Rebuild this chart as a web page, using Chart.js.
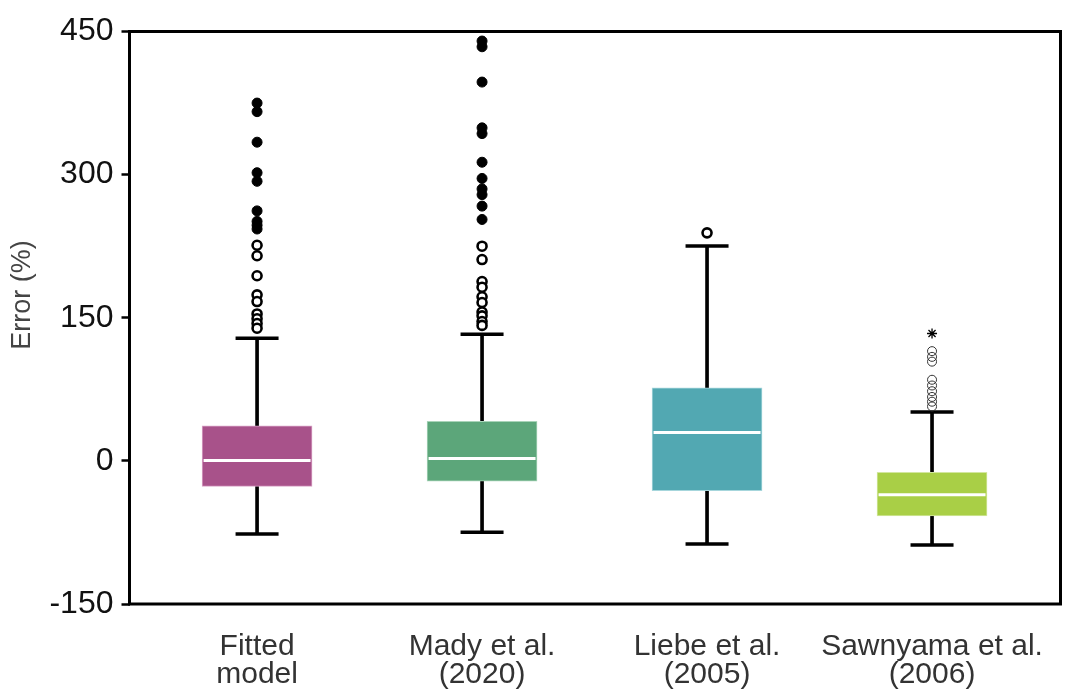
<!DOCTYPE html>
<html>
<head>
<meta charset="utf-8">
<script src="https://cdn.jsdelivr.net/npm/chart.js@4.4.1/dist/chart.umd.min.js"></script>
<style>
  body { margin: 0; background: #fff; }
  #box-chart { display: block; }
</style>
</head>
<body>
<canvas id="box-chart" width="1071" height="696"></canvas>
<script>
// categories (two-line labels)
const categories = [['Fitted', 'model'], ['Mady et al.', '(2020)'], ['Liebe et al.', '(2005)'], ['Sawnyama et al.', '(2006)']];
const boxColors = ['#a8528a', '#5ca67a', '#52a8b2', '#a9cf46'];
const boxEdges = ['#d9a3c6', '#a9d4b9', '#a6d6dc', '#d3e7a0'];

// box statistics (%)
const q1 = [-26.7, -21.2, -31.3, -57.8];
const q3 = [36.8, 41.4, 76.6, -12];
const medians = [0.5, 2.6, 29.8, -35.5];
const whiskerLow = [-76.6, -74.9, -87.1, -88.2];
const whiskerHigh = [128.6, 132.8, 225.2, 51.1];

// outliers
const fittedFar = [375, 366, 334, 302, 293, 262, 251, 247, 243];
const fittedNear = [226, 215, 194, 174, 167, 154, 149, 144, 139];
const madyFar = [440, 434, 397, 349, 343, 313, 296, 285, 279, 267, 253];
const madyNear = [225, 211, 188, 182, 172, 166, 156, 152, 146, 142];
const liebeNear = [239];
const sawnyamaNear = [115, 109, 104, 85, 79, 73, 67, 62, 57];
const sawnyamaFar = [133.5];

const yTicks = [-150, 0, 150, 300, 450];
const yTitle = 'Error (%)';

const pts = (i, arr) => arr.map(v => ({ x: i, y: v }));

// frame around the plot area + rotated y title
const framePlugin = {
  id: 'frame',
  afterDatasetsDraw(chart) {
    const { ctx, chartArea: a } = chart;
    ctx.save();
    ctx.strokeStyle = '#000';
    ctx.lineWidth = 3;
    ctx.strokeRect(a.left, a.top, a.right - a.left, a.bottom - a.top);
    ctx.restore();
  },
  afterDraw(chart) {
    const { ctx } = chart;
    ctx.save();
    ctx.translate(23, 295);
    ctx.rotate(-Math.PI / 2);
    ctx.font = '27px "Liberation Sans", Arial, sans-serif';
    ctx.fillStyle = '#444';
    ctx.textAlign = 'center';
    ctx.textBaseline = 'middle';
    ctx.fillText(yTitle, 0, 0);
    ctx.restore();
  }
};

const ctx = document.getElementById('box-chart').getContext('2d');
new Chart(ctx, {
  type: 'bar',
  data: {
    datasets: [
      {
        label: 'whisker',
        data: categories.map((c, i) => ({ x: i, y: [whiskerLow[i], whiskerHigh[i]] })),
        backgroundColor: '#000',
        barThickness: 3,
        grouped: false,
        order: 4
      },
      {
        label: 'box',
        data: categories.map((c, i) => ({ x: i, y: [q1[i], q3[i]] })),
        backgroundColor: boxColors,
        borderColor: boxEdges,
        borderWidth: 1,
        borderSkipped: false,
        barThickness: 110,
        grouped: false,
        order: 3
      },
      {
        type: 'scatter',
        label: 'median',
        data: categories.map((c, i) => ({ x: i, y: medians[i] })),
        pointStyle: 'line',
        radius: 53.5,
        borderColor: '#fff',
        borderWidth: 3,
        order: 2
      },
      {
        type: 'scatter',
        label: 'caps',
        data: categories.flatMap((c, i) => [{ x: i, y: whiskerLow[i] }, { x: i, y: whiskerHigh[i] }]),
        pointStyle: 'line',
        radius: 21.5,
        borderColor: '#000',
        borderWidth: 3.5,
        order: 1
      },
      {
        type: 'scatter',
        label: 'far outliers',
        data: [...pts(0, fittedFar), ...pts(1, madyFar)],
        pointStyle: 'circle',
        radius: 5,
        backgroundColor: '#000',
        borderColor: '#000',
        borderWidth: 1,
        order: 0
      },
      {
        type: 'scatter',
        label: 'near outliers',
        data: [...pts(0, fittedNear), ...pts(1, madyNear), ...pts(2, liebeNear)],
        pointStyle: 'circle',
        radius: 4.5,
        backgroundColor: '#fff',
        borderColor: '#000',
        borderWidth: 2.6,
        order: 0
      },
      {
        type: 'scatter',
        label: 'near outliers small',
        data: pts(3, sawnyamaNear),
        pointStyle: 'circle',
        radius: 4.5,
        backgroundColor: 'rgba(255,255,255,0)',
        borderColor: '#333',
        borderWidth: 1,
        order: 0
      },
      {
        type: 'scatter',
        label: 'extreme',
        data: pts(3, sawnyamaFar),
        pointStyle: 'star',
        radius: 5,
        borderColor: '#000',
        borderWidth: 1.3,
        order: 0
      }
    ]
  },
  options: {
    responsive: false,
    animation: false,
    layout: { autoPadding: false, padding: { top: 31.5, right: 10.5, left: 0, bottom: 0 } },
    plugins: {
      legend: { display: false },
      tooltip: { enabled: false }
    },
    scales: {
      x: {
        type: 'linear',
        offset: false,
        min: -0.567,
        max: 3.571,
        afterBuildTicks: s => { s.ticks = categories.map((c, i) => ({ value: i })); },
        afterFit: s => { s.height = 92; },
        grid: { display: false },
        border: { display: false },
        ticks: {
          autoSkip: false,
          maxRotation: 0,
          padding: 20,
          color: '#333',
          font: { family: '"Liberation Sans", Arial, sans-serif', size: 30, lineHeight: 0.95 },
          callback: v => categories[v]
        }
      },
      y: {
        min: -150,
        max: 450,
        afterBuildTicks: s => { s.ticks = yTicks.map(v => ({ value: v })); },
        afterFit: s => { s.width = 129.5; },
        grid: {
          drawOnChartArea: false,
          drawTicks: true,
          tickLength: 8,
          tickWidth: 2.5,
          tickColor: '#000'
        },
        border: { display: false },
        ticks: {
          padding: 8,
          color: '#111',
          font: { family: '"Liberation Sans", Arial, sans-serif', size: 32 }
        }
      }
    }
  },
  plugins: [framePlugin]
});
</script>
</body>
</html>
